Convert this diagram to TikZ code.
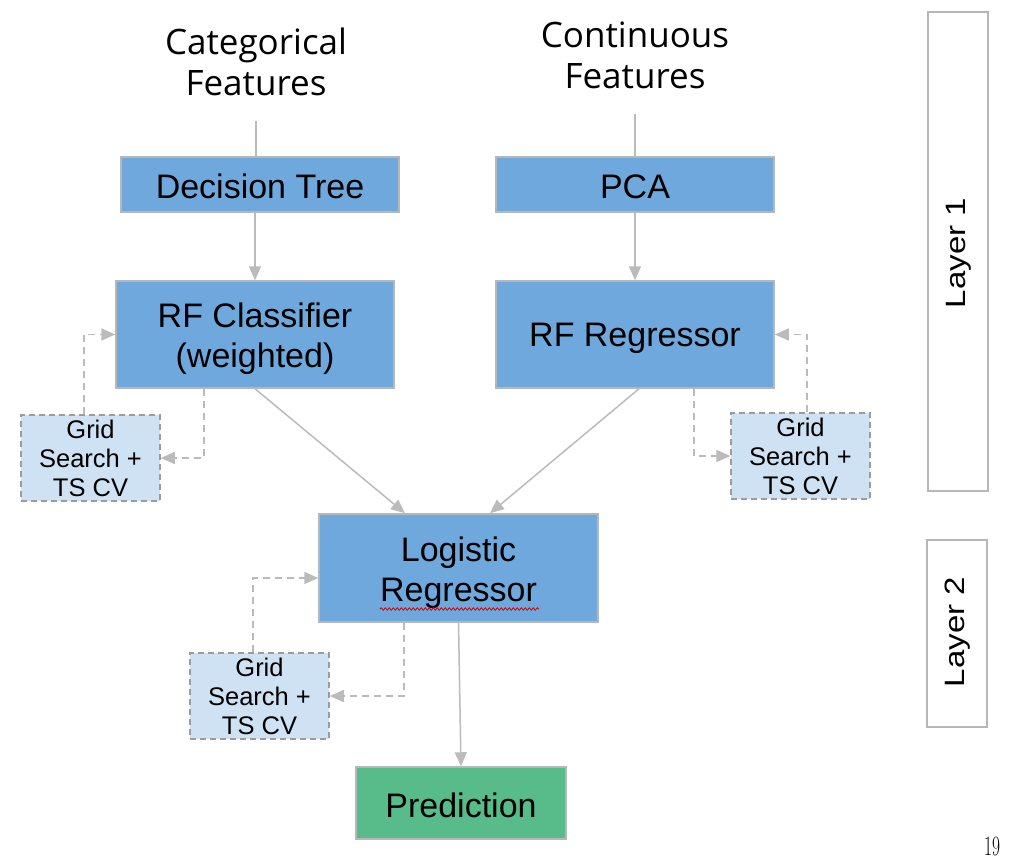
\documentclass[tikz,border=0pt]{standalone}
\usepackage{fontspec}
\newfontfamily\arial{Liberation Sans}
\newfontfamily\opensans{Open Sans}
\usetikzlibrary{arrows.meta,decorations.pathmorphing}
\definecolor{boxblue}{HTML}{6FA8DC}
\definecolor{lightblue}{HTML}{CFE2F3}
\definecolor{predgreen}{HTML}{57BB8A}
\definecolor{edgegray}{HTML}{B7B7B7}
\definecolor{linegray}{HTML}{BBBBBB}
\begin{document}
\begin{tikzpicture}[x=1pt,y=-1pt,
  mainbox/.style={draw=edgegray,line width=1.5pt,fill=boxblue,inner sep=0pt},
  boxtext/.style={align=center,inner sep=0pt,yshift=-4pt,font=\arial\fontsize{34}{40}\selectfont},
  gridbox/.style={draw=edgegray!85!black,dash pattern=on 6pt off 4pt,line width=1.5pt,fill=lightblue,
    minimum width=139pt,minimum height=86pt,inner sep=0pt,align=center,
    font=\arial\fontsize{25.5}{29}\selectfont},
  layerbox/.style={draw=edgegray,line width=1.5pt,fill=white,minimum width=60pt,inner sep=0pt},
  featlabel/.style={align=center,inner sep=0pt,font=\opensans\fontsize{35}{41}\selectfont},
  flow/.style={draw=linegray,line width=1.5pt,-{Triangle[length=14pt,width=12pt]}},
  plainline/.style={draw=linegray,line width=1.5pt},
  dasharrow/.style={draw=linegray,line width=1.5pt,dash pattern=on 7pt off 5pt,-{Triangle[length=14pt,width=12pt]}}
]
\useasboundingbox[fill=white] (0,0) rectangle (1012,862);

% feature labels
\node[featlabel] (cat) at (256,62) {Categorical\\Features};
\node[featlabel] (cont) at (635,55) {Continuous\\Features};

% main boxes
\node[mainbox,minimum width=278pt,minimum height=55pt,label={[boxtext,yshift=2pt]center:Decision Tree}] (dt) at (260,184.5) {};
\node[mainbox,minimum width=278pt,minimum height=55pt,label={[boxtext,yshift=2pt]center:PCA}] (pca) at (635,184.5) {};
\node[mainbox,minimum width=278pt,minimum height=107pt,label={[boxtext]center:RF Classifier\\(weighted)}] (rfc) at (255,334.5) {};
\node[mainbox,minimum width=278pt,minimum height=107pt,label={[boxtext]center:RF Regressor}] (rfr) at (635,334.5) {};
\node[mainbox,minimum width=279pt,minimum height=108pt,label={[boxtext,yshift=-1pt]center:Logistic\\Regressor}] (lr) at (458.5,568) {};
\node[mainbox,fill=predgreen,minimum width=210pt,minimum height=72pt,label={[boxtext,yshift=2pt]center:Prediction}] (pred) at (461,803) {};

% spell-check squiggle
\draw[red!85!black,line width=0.8pt,decorate,decoration={snake,segment length=4pt,amplitude=1.2pt}] (380,609) -- (539,609);

% grid search boxes
\node[gridbox] (gl1) at (90.5,458) {Grid\\Search +\\TS CV};
\node[gridbox] (gr1) at (800.5,456) {Grid\\Search +\\TS CV};
\node[gridbox] (gl2) at (259.5,696) {Grid\\Search +\\TS CV};

% layer boxes
\node[layerbox,minimum height=479pt] (l1) at (958,251.5) {};
\node[layerbox,minimum height=187pt] (l2) at (957,633.5) {};
\node[rotate=90,inner sep=0pt] (l1t) at (959,253) {\scalebox{1.18}[1]{\arial\fontsize{28}{28}\selectfont Layer 1}};
\node[rotate=90,inner sep=0pt] (l2t) at (958,632) {\scalebox{1.18}[1]{\arial\fontsize{28}{28}\selectfont Layer 2}};

% page number
\node[inner sep=0pt] (pg) at (992,846) {\scalebox{0.62}[1]{\fontsize{28}{28}\selectfont 19}};

% connectors
\coordinate (catend) at (256,121);
\coordinate (contend) at (635,114);
\draw[plainline] (catend) -- (catend |- dt.north);
\draw[plainline] (contend) -- (contend |- pca.north);
\draw[flow] (rfc.north |- dt.south) -- (rfc.north);
\draw[flow] (pca.south) -- (rfr.north);
\draw[flow] (rfc.south) -- ([xshift=-53.5pt]lr.north);
\draw[flow] ([xshift=4pt]rfr.south) -- ([xshift=31.5pt]lr.north);
\draw[flow] (lr.south) -- (pred.north);

% dashed tuning loops
\draw[dasharrow] ([xshift=-51pt]rfc.south) |- (gl1.east);
\draw[dasharrow] ([xshift=-6.5pt]gl1.north) |- (rfc.west);
\draw[dasharrow] ([xshift=59pt]rfr.south) |- (gr1.west);
\draw[dasharrow] ([xshift=6.5pt]gr1.north) |- (rfr.east);
\draw[dasharrow] ([xshift=-54.5pt]lr.south) |- (gl2.east);
\draw[dasharrow] ([xshift=-6.5pt]gl2.north) |- ([yshift=-10pt]lr.west);
\end{tikzpicture}
\end{document}
